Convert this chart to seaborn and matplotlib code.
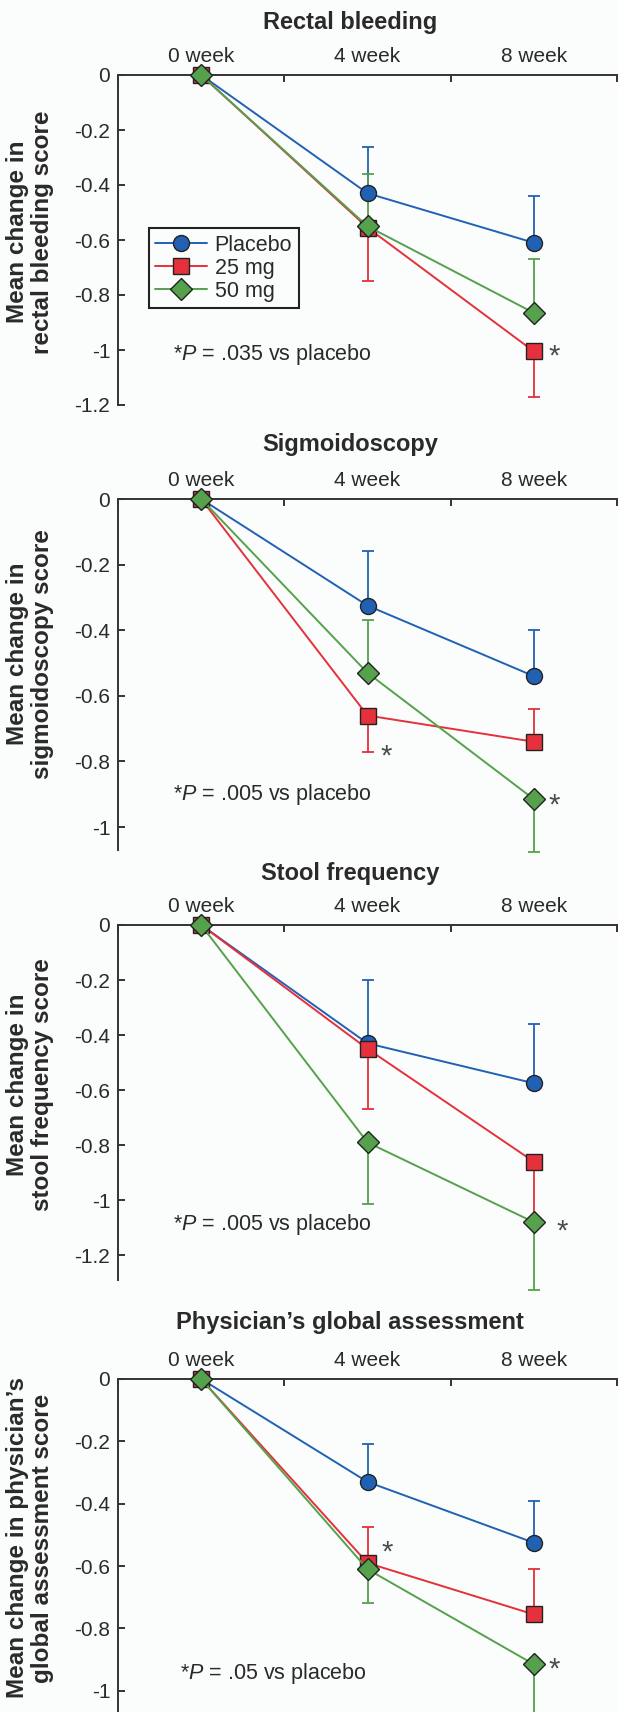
import numpy as np
import pandas as pd
import matplotlib
matplotlib.use('Agg')
import matplotlib.pyplot as plt
from matplotlib.lines import Line2D
import seaborn as sns

# ---- data ----
weeks = ['0 week', '4 week', '8 week']
groups = ['Placebo', '25 mg', '50 mg']

titles = ['Rectal bleeding', 'Sigmoidoscopy', 'Stool frequency',
          'Physician\u2019s global assessment']
ylabels = ['Mean change in\nrectal bleeding score',
           'Mean change in\nsigmoidoscopy score',
           'Mean change in\nstool frequency score',
           'Mean change in physician\u2019s\nglobal assessment score']
p_notes = ['.035', '.005', '.005', '.05']

# mean change per group (0, 4, 8 week)
rb_placebo = [0, -0.43, -0.61]
rb_25 = [0, -0.555, -1.005]
rb_50 = [0, -0.55, -0.865]
sg_placebo = [0, -0.325, -0.54]
sg_25 = [0, -0.66, -0.74]
sg_50 = [0, -0.53, -0.915]
sf_placebo = [0, -0.43, -0.575]
sf_25 = [0, -0.45, -0.86]
sf_50 = [0, -0.79, -1.08]
pga_placebo = [0, -0.33, -0.525]
pga_25 = [0, -0.59, -0.755]
pga_50 = [0, -0.61, -0.915]

# end of the (one-sided) error bar
rb_placebo_bar = [0, -0.26, -0.44]
rb_25_bar = [0, -0.75, -1.17]
rb_50_bar = [0, -0.36, -0.67]
sg_placebo_bar = [0, -0.16, -0.40]
sg_25_bar = [0, -0.77, -0.64]
sg_50_bar = [0, -0.37, -1.075]
sf_placebo_bar = [0, -0.20, -0.36]
sf_25_bar = [0, -0.67, -1.08]
sf_50_bar = [0, -1.015, -1.325]
pga_placebo_bar = [0, -0.21, -0.39]
pga_25_bar = [0, -0.475, -0.61]
pga_50_bar = [0, -0.72, -1.15]

means = [[rb_placebo, rb_25, rb_50], [sg_placebo, sg_25, sg_50],
         [sf_placebo, sf_25, sf_50], [pga_placebo, pga_25, pga_50]]
bars = [[rb_placebo_bar, rb_25_bar, rb_50_bar],
        [sg_placebo_bar, sg_25_bar, sg_50_bar],
        [sf_placebo_bar, sf_25_bar, sf_50_bar],
        [pga_placebo_bar, pga_25_bar, pga_50_bar]]

# where the significance asterisks sit (x, y in data units)
stars = [[(2.62, -1.0)],
         [(1.61, -0.765), (2.62, -0.915)],
         [(2.67, -1.09)],
         [(1.62, -0.535), (2.62, -0.91)]]

# ---- style ----
colors = {'Placebo': '#2161b4', '25 mg': '#e4313b', '50 mg': '#55a14c'}
marker_map = {'Placebo': 'o', '25 mg': 's', '50 mg': 'D'}

sns.set_style('ticks')
plt.rcParams['font.family'] = ['Liberation Sans', 'DejaVu Sans']
plt.rcParams['axes.unicode_minus'] = False
plt.rcParams['mathtext.fontset'] = 'custom'
plt.rcParams['mathtext.rm'] = 'Liberation Sans'
plt.rcParams['mathtext.it'] = 'Liberation Sans:italic'

W, H = 618, 1712
bg = '#fbfcfc'
fig = plt.figure(figsize=(W / 100, H / 100), dpi=100, facecolor=bg)

# layout in pixels
left_px, right_px = 118, 617
tops = [75, 499, 925, 1379]
bottoms = [405, 850, 1280, 1712]
ylims = [-1.2, -1.07, -1.29, -1.068]
yticks_all = [[0, -0.2, -0.4, -0.6, -0.8, -1, -1.2],
              [0, -0.2, -0.4, -0.6, -0.8, -1],
              [0, -0.2, -0.4, -0.6, -0.8, -1, -1.2],
              [0, -0.2, -0.4, -0.6, -0.8, -1]]
title_y = [22, 445, 874, 1323]
ylab_y = [232, 654, 1085, 1538]
note_xy = [(0.33, -1.018), (0.33, -0.90), (0.33, -1.09), (0.37, -0.946)]

x_pos = [0.5, 1.5, 2.5]
ink = '#2a2a2a'
ms = 11.5

for i in range(4):
    ax = fig.add_axes([left_px / W, 1 - bottoms[i] / H,
                       (right_px - left_px) / W, (bottoms[i] - tops[i]) / H])
    ax.set_facecolor(bg)

    rows = []
    for g, vals in zip(groups, means[i]):
        for xp, v in zip(x_pos, vals):
            rows.append({'pos': xp, 'change': v, 'group': g})
    df = pd.DataFrame(rows)

    # one-sided error bars
    for g, m, e in zip(groups, means[i], bars[i]):
        m = np.array(m)
        e = np.array(e)
        lo = np.clip(m - e, 0, None)
        hi = np.clip(e - m, 0, None)
        ax.errorbar(x_pos, m, yerr=[lo, hi], fmt='none', ecolor=colors[g],
                    elinewidth=1.3, capsize=4.5, capthick=1.3, zorder=2,
                    clip_on=False)

    sns.lineplot(data=df, x='pos', y='change', hue='group', style='group',
                 hue_order=groups, style_order=groups, palette=colors,
                 markers=marker_map, dashes=False, errorbar=None,
                 markersize=ms, markeredgecolor='#222222',
                 markeredgewidth=1.0, linewidth=1.4, legend=False,
                 zorder=3, clip_on=False, ax=ax)

    ax.set_xlim(0, 3)
    ax.set_ylim(ylims[i], 0)
    ax.xaxis.tick_top()
    ax.set_xticks(x_pos)
    ax.set_xticklabels(weeks)
    ax.set_xticks([0, 1, 2, 3], minor=True)
    ax.tick_params(axis='x', which='major', length=0, pad=6.5, labelsize=15,
                   colors=ink)
    ax.tick_params(axis='x', which='minor', direction='in', length=5,
                   width=1.4, top=True, bottom=False, color='#333333')
    yt = yticks_all[i]
    ax.set_yticks(yt)
    ax.set_yticklabels(['{:g}'.format(v) for v in yt])
    ax.tick_params(axis='y', direction='in', length=5, width=1.4, pad=5.5,
                   labelsize=15, colors=ink)
    ax.tick_params(axis='y', color='#333333')
    for s in ['right', 'bottom']:
        ax.spines[s].set_visible(False)
    for s in ['top', 'left']:
        ax.spines[s].set_linewidth(1.4)
        ax.spines[s].set_color('#333333')
    ax.set_xlabel('')
    ax.set_ylabel('')

    # p-value note
    nx, ny = note_xy[i]
    ax.text(nx, ny, '*$\\mathit{P}$ = ' + p_notes[i] + ' vs placebo',
            fontsize=15.5, color=ink, ha='left', va='center')

    for sx, sy in stars[i]:
        ax.annotate('*', xy=(sx, sy), xytext=(0, -10.5),
                    textcoords='offset points', fontsize=21, color='#4a4a4a',
                    ha='center', va='baseline')

    if i == 0:
        handles = [Line2D([], [], color=colors[g], marker=marker_map[g],
                          markersize=ms, markeredgecolor='#222222',
                          markeredgewidth=1.0, linewidth=1.4)
                   for g in groups]
        leg = ax.legend(handles, groups, loc='upper left',
                        bbox_to_anchor=(0.062, 0.536), frameon=True,
                        fancybox=False, fontsize=15.5, handlelength=2.4,
                        labelspacing=0.1, borderpad=0.3,
                        handletextpad=0.35, borderaxespad=0)
        leg.get_frame().set_edgecolor('#222222')
        leg.get_frame().set_linewidth(1.5)
        leg.get_frame().set_facecolor(bg)
        leg.get_frame().set_alpha(1)
        for t in leg.get_texts():
            t.set_color(ink)

    fig.text(350 / W, 1 - title_y[i] / H, titles[i], fontsize=17,
             fontweight='bold', color=ink, ha='center', va='center')
    fig.text(30 / W, 1 - ylab_y[i] / H, ylabels[i], fontsize=17.5,
             fontweight='bold', color=ink, rotation=90, ha='center',
             va='center', multialignment='center', linespacing=1.15)

fig.savefig('out.png', dpi=100, facecolor=bg)
